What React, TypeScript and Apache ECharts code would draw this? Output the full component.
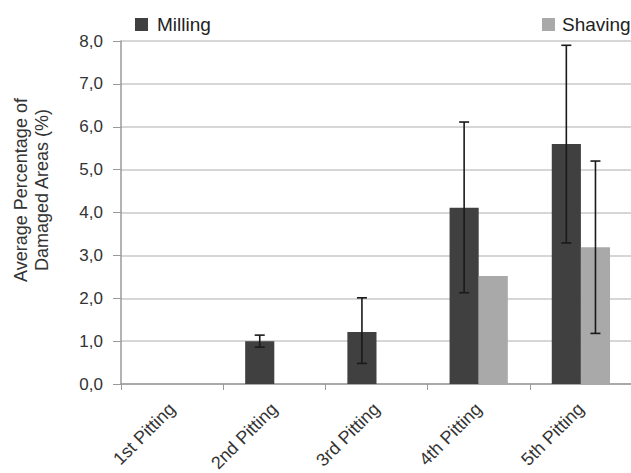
import React, { useEffect, useRef } from "react";
import * as echarts from "echarts";

const categories = ["1st Pitting", "2nd Pitting", "3rd Pitting", "4th Pitting", "5th Pitting"];
const milling = [0, 1.0, 1.21, 4.11, 5.6];
const shaving = [0, 0, 0, 2.52, 3.19];
const millingLow = [null, 0.86, 0.48, 2.13, 3.29];
const millingHigh = [null, 1.14, 2.01, 6.11, 7.9];
const shavingLow = [null, null, null, null, 1.18];
const shavingHigh = [null, null, null, null, 5.2];
const yTicks = [0, 1, 2, 3, 4, 5, 6, 7, 8];
const yTitle = "Average Percentage of\nDamaged Areas (%)";

const GAP = 0.43;

function errorSeries(name: string, low: (number | null)[], high: (number | null)[], side: number) {
  const data = categories.map((_, i) => [i, low[i], high[i]]);
  return {
    type: "custom",
    name: name + "Err",
    z: 5,
    data: data.filter((d) => d[1] !== null),
    renderItem: (params: any, api: any) => {
      const idx = api.value(0);
      const lo = api.coord([idx, api.value(1)]);
      const hi = api.coord([idx, api.value(2)]);
      const catW = api.size([1, 0])[0];
      const bw = (catW * (1 - GAP)) / 2;
      const x = lo[0] + side * bw / 2;
      const cap = 5;
      const style = { stroke: "#1a1a1a", lineWidth: 1.6 };
      return {
        type: "group",
        children: [
          { type: "line", shape: { x1: x, y1: lo[1], x2: x, y2: hi[1] }, style },
          { type: "line", shape: { x1: x - cap, y1: hi[1], x2: x + cap, y2: hi[1] }, style },
          { type: "line", shape: { x1: x - cap, y1: lo[1], x2: x + cap, y2: lo[1] }, style },
        ],
      };
    },
  };
}

export default function App() {
  const ref = useRef<HTMLDivElement>(null);
  useEffect(() => {
    const chart = echarts.init(ref.current!, null, { renderer: "svg" });
    const font = "Liberation Sans, Arial, sans-serif";
    chart.setOption({
      animation: false,
      textStyle: { fontFamily: font },
      legend: [
        {
          data: ["Milling"],
          left: 130,
          top: 10,
          icon: "rect",
          itemWidth: 13,
          itemHeight: 13,
          textStyle: { fontSize: 19, color: "#222", fontFamily: font, padding: [0, 0, 0, 4] },
        },
        {
          data: ["Shaving"],
          left: 537,
          top: 10,
          icon: "rect",
          itemWidth: 13,
          itemHeight: 13,
          textStyle: { fontSize: 19, color: "#222", fontFamily: font, padding: [0, 0, 0, 2] },
        },
      ],
      graphic: [
        {
          type: "text",
          x: 31,
          y: 190,
          rotation: Math.PI / 2,
          style: {
            text: yTitle,
            fontSize: 18,
            lineHeight: 21,
            fill: "#333",
            fontFamily: font,
            align: "center",
            verticalAlign: "middle",
          },
        },
      ],
      grid: { left: 121, width: 511, top: 41, bottom: 89, outerBoundsMode: "none", containLabel: false },
      xAxis: {
        type: "category",
        data: categories,
        axisLine: { lineStyle: { color: "#9a9a9a", width: 1.5 } },
        axisTick: { show: true, length: 6, lineStyle: { color: "#9a9a9a" } },
        axisLabel: { rotate: 45, fontSize: 18, color: "#333", margin: 22, fontFamily: font },
      },
      yAxis: {
        type: "value",
        min: 0,
        max: 8,
        interval: 1,
        axisLine: { show: true, lineStyle: { color: "#9a9a9a", width: 1.5 } },
        axisTick: { show: true, length: 8, lineStyle: { color: "#9a9a9a" } },
        splitLine: { lineStyle: { color: "#c8c8c8", width: 1.5 } },
        axisLabel: {
          fontSize: 17,
          color: "#333",
          margin: 18,
          fontFamily: font,
          formatter: (v: number) => (yTicks.includes(v) ? v.toFixed(1).replace(".", ",") : ""),
        },
      },
      series: [
        {
          name: "Milling",
          type: "bar",
          data: milling,
          barGap: "0%",
          barCategoryGap: "43%",
          itemStyle: { color: "#404040" },
        },
        {
          name: "Shaving",
          type: "bar",
          data: shaving,
          barGap: "0%",
          barCategoryGap: "43%",
          itemStyle: { color: "#a9a9a9" },
        },
        errorSeries("Milling", millingLow, millingHigh, -1),
        errorSeries("Shaving", shavingLow, shavingHigh, 1),
      ],
    });
    return () => chart.dispose();
  }, []);
  return <div ref={ref} style={{ width: 631, height: 473, position: "absolute", left: 0, top: 0, background: "#fff" }} />;
}
